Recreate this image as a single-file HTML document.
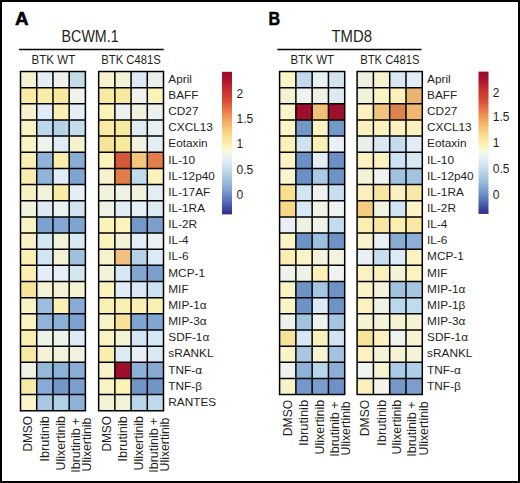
<!DOCTYPE html>
<html><head><meta charset="utf-8"><style>
html,body{margin:0;padding:0;background:#fff;}
body{width:520px;height:483px;overflow:hidden;position:relative;}
.frame{position:absolute;left:0;top:0;width:520px;height:483px;box-sizing:border-box;border:2px solid #000;}
svg{position:absolute;left:0;top:0;}
svg text{font-family:"Liberation Sans", sans-serif;fill:#231f20;}
svg text[font-weight]{stroke:#000;stroke-width:0.5px;fill:#000;}
</style></head><body>
<svg width="520" height="483" viewBox="0 0 520 483">
<defs><linearGradient id="g1" x1="0" y1="0" x2="0" y2="1"><stop offset="0.0" stop-color="#980d2b"/><stop offset="0.06" stop-color="#ac132c"/><stop offset="0.13" stop-color="#c8302c"/><stop offset="0.2" stop-color="#d84a35"/><stop offset="0.27" stop-color="#e8774a"/><stop offset="0.33" stop-color="#f0a05c"/><stop offset="0.39" stop-color="#f5c274"/><stop offset="0.45" stop-color="#f9df92"/><stop offset="0.51" stop-color="#fcefb2"/><stop offset="0.54" stop-color="#fbf6cc"/><stop offset="0.57" stop-color="#f5f8e6"/><stop offset="0.61" stop-color="#e6f0f4"/><stop offset="0.66" stop-color="#d0e4ef"/><stop offset="0.7" stop-color="#bcd6e8"/><stop offset="0.76" stop-color="#a0c2de"/><stop offset="0.82" stop-color="#84a6d2"/><stop offset="0.87" stop-color="#6a88c4"/><stop offset="0.92" stop-color="#5264b2"/><stop offset="0.97" stop-color="#3c3f9a"/><stop offset="1.0" stop-color="#2c2c84"/></linearGradient></defs>
<text x="14.9" y="24.8" font-size="18" font-weight="bold" textLength="13.6" lengthAdjust="spacingAndGlyphs">A</text>
<text x="268.6" y="24.8" font-size="18" font-weight="bold" textLength="11.6" lengthAdjust="spacingAndGlyphs">B</text>
<text x="61.6" y="41.8" font-size="16" textLength="57" lengthAdjust="spacingAndGlyphs">BCWM.1</text>
<text x="331.5" y="41.7" font-size="16" textLength="40.5" lengthAdjust="spacingAndGlyphs">TMD8</text>
<path d="M19.1 49.5H163.7M277.3 49.5H421.5" stroke="#000" stroke-width="1.6"/>
<g font-size="11.9">
<text x="31.6" y="64" textLength="43.6" lengthAdjust="spacingAndGlyphs">BTK WT</text>
<text x="101.3" y="64" textLength="59.5" lengthAdjust="spacingAndGlyphs">BTK C481S</text>
<text x="290.6" y="64" textLength="43.4" lengthAdjust="spacingAndGlyphs">BTK WT</text>
<text x="360.2" y="64" textLength="59.4" lengthAdjust="spacingAndGlyphs">BTK C481S</text>
</g>
<rect x="20.50" y="71.50" width="16.23" height="16.16" fill="#f4f2d0"/>
<rect x="36.73" y="71.50" width="16.23" height="16.16" fill="#e3eef6"/>
<rect x="52.95" y="71.50" width="16.23" height="16.16" fill="#eef2e8"/>
<rect x="69.18" y="71.50" width="16.23" height="16.16" fill="#c4dcea"/>
<rect x="20.50" y="87.66" width="16.23" height="16.16" fill="#f9eba2"/>
<rect x="36.73" y="87.66" width="16.23" height="16.16" fill="#f9eca6"/>
<rect x="52.95" y="87.66" width="16.23" height="16.16" fill="#f8e89e"/>
<rect x="69.18" y="87.66" width="16.23" height="16.16" fill="#eef3ea"/>
<rect x="20.50" y="103.81" width="16.23" height="16.16" fill="#f6f2cc"/>
<rect x="36.73" y="103.81" width="16.23" height="16.16" fill="#e0ecf5"/>
<rect x="52.95" y="103.81" width="16.23" height="16.16" fill="#fbf0b4"/>
<rect x="69.18" y="103.81" width="16.23" height="16.16" fill="#e3eef5"/>
<rect x="20.50" y="119.97" width="16.23" height="16.16" fill="#fbf3c4"/>
<rect x="36.73" y="119.97" width="16.23" height="16.16" fill="#bcd8ea"/>
<rect x="52.95" y="119.97" width="16.23" height="16.16" fill="#b4d3e6"/>
<rect x="69.18" y="119.97" width="16.23" height="16.16" fill="#c4dcec"/>
<rect x="20.50" y="136.12" width="16.23" height="16.16" fill="#fbf3c4"/>
<rect x="36.73" y="136.12" width="16.23" height="16.16" fill="#eef3ea"/>
<rect x="52.95" y="136.12" width="16.23" height="16.16" fill="#e0ecf5"/>
<rect x="69.18" y="136.12" width="16.23" height="16.16" fill="#f5f2d0"/>
<rect x="20.50" y="152.28" width="16.23" height="16.16" fill="#fbf0b4"/>
<rect x="36.73" y="152.28" width="16.23" height="16.16" fill="#8fb4d9"/>
<rect x="52.95" y="152.28" width="16.23" height="16.16" fill="#fbeeaa"/>
<rect x="69.18" y="152.28" width="16.23" height="16.16" fill="#88add5"/>
<rect x="20.50" y="168.43" width="16.23" height="16.16" fill="#faeeae"/>
<rect x="36.73" y="168.43" width="16.23" height="16.16" fill="#8fb4d9"/>
<rect x="52.95" y="168.43" width="16.23" height="16.16" fill="#e0ecf7"/>
<rect x="69.18" y="168.43" width="16.23" height="16.16" fill="#7ea4cf"/>
<rect x="20.50" y="184.59" width="16.23" height="16.16" fill="#f8f1c0"/>
<rect x="36.73" y="184.59" width="16.23" height="16.16" fill="#f0f2dc"/>
<rect x="52.95" y="184.59" width="16.23" height="16.16" fill="#faeca4"/>
<rect x="69.18" y="184.59" width="16.23" height="16.16" fill="#e6eff5"/>
<rect x="20.50" y="200.74" width="16.23" height="16.16" fill="#f2f3dc"/>
<rect x="36.73" y="200.74" width="16.23" height="16.16" fill="#dbe9f4"/>
<rect x="52.95" y="200.74" width="16.23" height="16.16" fill="#eaf1f0"/>
<rect x="69.18" y="200.74" width="16.23" height="16.16" fill="#cfe4f0"/>
<rect x="20.50" y="216.90" width="16.23" height="16.16" fill="#f8f2c4"/>
<rect x="36.73" y="216.90" width="16.23" height="16.16" fill="#7ca2cf"/>
<rect x="52.95" y="216.90" width="16.23" height="16.16" fill="#82a8d2"/>
<rect x="69.18" y="216.90" width="16.23" height="16.16" fill="#7ea4d0"/>
<rect x="20.50" y="233.05" width="16.23" height="16.16" fill="#f8f2c4"/>
<rect x="36.73" y="233.05" width="16.23" height="16.16" fill="#d4e6f3"/>
<rect x="52.95" y="233.05" width="16.23" height="16.16" fill="#f0f2dc"/>
<rect x="69.18" y="233.05" width="16.23" height="16.16" fill="#d6e8f2"/>
<rect x="20.50" y="249.21" width="16.23" height="16.16" fill="#fbf0b4"/>
<rect x="36.73" y="249.21" width="16.23" height="16.16" fill="#d2e5f3"/>
<rect x="52.95" y="249.21" width="16.23" height="16.16" fill="#f3f2d6"/>
<rect x="69.18" y="249.21" width="16.23" height="16.16" fill="#9fc1de"/>
<rect x="20.50" y="265.36" width="16.23" height="16.16" fill="#fbf0b0"/>
<rect x="36.73" y="265.36" width="16.23" height="16.16" fill="#e3eef8"/>
<rect x="52.95" y="265.36" width="16.23" height="16.16" fill="#e6eff7"/>
<rect x="69.18" y="265.36" width="16.23" height="16.16" fill="#d4e7f0"/>
<rect x="20.50" y="281.51" width="16.23" height="16.16" fill="#f8e498"/>
<rect x="36.73" y="281.51" width="16.23" height="16.16" fill="#f4f2d4"/>
<rect x="52.95" y="281.51" width="16.23" height="16.16" fill="#f4f2d4"/>
<rect x="69.18" y="281.51" width="16.23" height="16.16" fill="#f5f2d0"/>
<rect x="20.50" y="297.67" width="16.23" height="16.16" fill="#fbf3c0"/>
<rect x="36.73" y="297.67" width="16.23" height="16.16" fill="#9bbede"/>
<rect x="52.95" y="297.67" width="16.23" height="16.16" fill="#fbf0b4"/>
<rect x="69.18" y="297.67" width="16.23" height="16.16" fill="#88acd5"/>
<rect x="20.50" y="313.83" width="16.23" height="16.16" fill="#fbf3c0"/>
<rect x="36.73" y="313.83" width="16.23" height="16.16" fill="#90b4d9"/>
<rect x="52.95" y="313.83" width="16.23" height="16.16" fill="#8ab0d8"/>
<rect x="69.18" y="313.83" width="16.23" height="16.16" fill="#7ca2cf"/>
<rect x="20.50" y="329.98" width="16.23" height="16.16" fill="#faf0b0"/>
<rect x="36.73" y="329.98" width="16.23" height="16.16" fill="#eef3ea"/>
<rect x="52.95" y="329.98" width="16.23" height="16.16" fill="#eef3ea"/>
<rect x="69.18" y="329.98" width="16.23" height="16.16" fill="#dcebf5"/>
<rect x="20.50" y="346.13" width="16.23" height="16.16" fill="#f8e8a0"/>
<rect x="36.73" y="346.13" width="16.23" height="16.16" fill="#f3f2d8"/>
<rect x="52.95" y="346.13" width="16.23" height="16.16" fill="#f2f2da"/>
<rect x="69.18" y="346.13" width="16.23" height="16.16" fill="#f0f2e0"/>
<rect x="20.50" y="362.29" width="16.23" height="16.16" fill="#f0f3e4"/>
<rect x="36.73" y="362.29" width="16.23" height="16.16" fill="#94b8da"/>
<rect x="52.95" y="362.29" width="16.23" height="16.16" fill="#8cb2d8"/>
<rect x="69.18" y="362.29" width="16.23" height="16.16" fill="#88aed6"/>
<rect x="20.50" y="378.45" width="16.23" height="16.16" fill="#f8eaa4"/>
<rect x="36.73" y="378.45" width="16.23" height="16.16" fill="#88acd5"/>
<rect x="52.95" y="378.45" width="16.23" height="16.16" fill="#7298c9"/>
<rect x="69.18" y="378.45" width="16.23" height="16.16" fill="#7aa0ce"/>
<rect x="20.50" y="394.60" width="16.23" height="16.16" fill="#fbf4c8"/>
<rect x="36.73" y="394.60" width="16.23" height="16.16" fill="#a8c8e4"/>
<rect x="52.95" y="394.60" width="16.23" height="16.16" fill="#b0d0e8"/>
<rect x="69.18" y="394.60" width="16.23" height="16.16" fill="#8eb2d8"/>
<path d="M20.50 70.75V411.50M36.73 70.75V411.50M52.95 70.75V411.50M69.18 70.75V411.50M85.40 70.75V411.50M20.50 71.50H85.40M20.50 87.66H85.40M20.50 103.81H85.40M20.50 119.97H85.40M20.50 136.12H85.40M20.50 152.28H85.40M20.50 168.43H85.40M20.50 184.59H85.40M20.50 200.74H85.40M20.50 216.90H85.40M20.50 233.05H85.40M20.50 249.21H85.40M20.50 265.36H85.40M20.50 281.51H85.40M20.50 297.67H85.40M20.50 313.83H85.40M20.50 329.98H85.40M20.50 346.13H85.40M20.50 362.29H85.40M20.50 378.45H85.40M20.50 394.60H85.40M20.50 410.75H85.40" stroke="#000" stroke-width="1.5" fill="none"/>
<rect x="98.65" y="71.50" width="16.21" height="16.16" fill="#f8f3cc"/>
<rect x="114.86" y="71.50" width="16.21" height="16.16" fill="#f2f2d4"/>
<rect x="131.07" y="71.50" width="16.21" height="16.16" fill="#dde9f4"/>
<rect x="147.29" y="71.50" width="16.21" height="16.16" fill="#eaf0ec"/>
<rect x="98.65" y="87.66" width="16.21" height="16.16" fill="#f9eaa2"/>
<rect x="114.86" y="87.66" width="16.21" height="16.16" fill="#f9e9a0"/>
<rect x="131.07" y="87.66" width="16.21" height="16.16" fill="#eef2ea"/>
<rect x="147.29" y="87.66" width="16.21" height="16.16" fill="#fbf2b8"/>
<rect x="98.65" y="103.81" width="16.21" height="16.16" fill="#fbf2bc"/>
<rect x="114.86" y="103.81" width="16.21" height="16.16" fill="#e8f0f0"/>
<rect x="131.07" y="103.81" width="16.21" height="16.16" fill="#f2f2dc"/>
<rect x="147.29" y="103.81" width="16.21" height="16.16" fill="#ebf1ee"/>
<rect x="98.65" y="119.97" width="16.21" height="16.16" fill="#f9eaa4"/>
<rect x="114.86" y="119.97" width="16.21" height="16.16" fill="#f9e9a0"/>
<rect x="131.07" y="119.97" width="16.21" height="16.16" fill="#e0ecf6"/>
<rect x="147.29" y="119.97" width="16.21" height="16.16" fill="#e8f0f4"/>
<rect x="98.65" y="136.12" width="16.21" height="16.16" fill="#f6e39a"/>
<rect x="114.86" y="136.12" width="16.21" height="16.16" fill="#f9e8a0"/>
<rect x="131.07" y="136.12" width="16.21" height="16.16" fill="#f1f2e0"/>
<rect x="147.29" y="136.12" width="16.21" height="16.16" fill="#e4eef5"/>
<rect x="98.65" y="152.28" width="16.21" height="16.16" fill="#fbf2bc"/>
<rect x="114.86" y="152.28" width="16.21" height="16.16" fill="#d6583a"/>
<rect x="131.07" y="152.28" width="16.21" height="16.16" fill="#f4c67c"/>
<rect x="147.29" y="152.28" width="16.21" height="16.16" fill="#e27e4c"/>
<rect x="98.65" y="168.43" width="16.21" height="16.16" fill="#f8f3cc"/>
<rect x="114.86" y="168.43" width="16.21" height="16.16" fill="#e07c48"/>
<rect x="131.07" y="168.43" width="16.21" height="16.16" fill="#c0dbee"/>
<rect x="147.29" y="168.43" width="16.21" height="16.16" fill="#fbf2bc"/>
<rect x="98.65" y="184.59" width="16.21" height="16.16" fill="#f1f2da"/>
<rect x="114.86" y="184.59" width="16.21" height="16.16" fill="#eef2e6"/>
<rect x="131.07" y="184.59" width="16.21" height="16.16" fill="#f1f2de"/>
<rect x="147.29" y="184.59" width="16.21" height="16.16" fill="#e2edf5"/>
<rect x="98.65" y="200.74" width="16.21" height="16.16" fill="#eef2e4"/>
<rect x="114.86" y="200.74" width="16.21" height="16.16" fill="#e0ecf6"/>
<rect x="131.07" y="200.74" width="16.21" height="16.16" fill="#e6eff5"/>
<rect x="147.29" y="200.74" width="16.21" height="16.16" fill="#dceaf4"/>
<rect x="98.65" y="216.90" width="16.21" height="16.16" fill="#fbf2bc"/>
<rect x="114.86" y="216.90" width="16.21" height="16.16" fill="#fbf2bc"/>
<rect x="131.07" y="216.90" width="16.21" height="16.16" fill="#7498c9"/>
<rect x="147.29" y="216.90" width="16.21" height="16.16" fill="#7c9fcd"/>
<rect x="98.65" y="233.05" width="16.21" height="16.16" fill="#fbf2bc"/>
<rect x="114.86" y="233.05" width="16.21" height="16.16" fill="#f1f2d8"/>
<rect x="131.07" y="233.05" width="16.21" height="16.16" fill="#e2edf6"/>
<rect x="147.29" y="233.05" width="16.21" height="16.16" fill="#eaf1f0"/>
<rect x="98.65" y="249.21" width="16.21" height="16.16" fill="#f6f2cc"/>
<rect x="114.86" y="249.21" width="16.21" height="16.16" fill="#f2c080"/>
<rect x="131.07" y="249.21" width="16.21" height="16.16" fill="#b4d3ea"/>
<rect x="147.29" y="249.21" width="16.21" height="16.16" fill="#dcebf5"/>
<rect x="98.65" y="265.36" width="16.21" height="16.16" fill="#f3f2d6"/>
<rect x="114.86" y="265.36" width="16.21" height="16.16" fill="#d6e7f5"/>
<rect x="131.07" y="265.36" width="16.21" height="16.16" fill="#82a6d0"/>
<rect x="147.29" y="265.36" width="16.21" height="16.16" fill="#7aa0cc"/>
<rect x="98.65" y="281.51" width="16.21" height="16.16" fill="#fbf2bc"/>
<rect x="114.86" y="281.51" width="16.21" height="16.16" fill="#e0ecf6"/>
<rect x="131.07" y="281.51" width="16.21" height="16.16" fill="#d8e8f4"/>
<rect x="147.29" y="281.51" width="16.21" height="16.16" fill="#cde2f0"/>
<rect x="98.65" y="297.67" width="16.21" height="16.16" fill="#fbf0b4"/>
<rect x="114.86" y="297.67" width="16.21" height="16.16" fill="#fbf0b4"/>
<rect x="131.07" y="297.67" width="16.21" height="16.16" fill="#fbf0b4"/>
<rect x="147.29" y="297.67" width="16.21" height="16.16" fill="#fbf0b4"/>
<rect x="98.65" y="313.83" width="16.21" height="16.16" fill="#f8f2c8"/>
<rect x="114.86" y="313.83" width="16.21" height="16.16" fill="#f8e29a"/>
<rect x="131.07" y="313.83" width="16.21" height="16.16" fill="#7ea4d0"/>
<rect x="147.29" y="313.83" width="16.21" height="16.16" fill="#80a6d2"/>
<rect x="98.65" y="329.98" width="16.21" height="16.16" fill="#fbf3c4"/>
<rect x="114.86" y="329.98" width="16.21" height="16.16" fill="#f2f2d6"/>
<rect x="131.07" y="329.98" width="16.21" height="16.16" fill="#d4e6f3"/>
<rect x="147.29" y="329.98" width="16.21" height="16.16" fill="#d6e8f3"/>
<rect x="98.65" y="346.13" width="16.21" height="16.16" fill="#faeeac"/>
<rect x="114.86" y="346.13" width="16.21" height="16.16" fill="#dcebf5"/>
<rect x="131.07" y="346.13" width="16.21" height="16.16" fill="#e6eff6"/>
<rect x="147.29" y="346.13" width="16.21" height="16.16" fill="#d8e9f3"/>
<rect x="98.65" y="362.29" width="16.21" height="16.16" fill="#f8f2c8"/>
<rect x="114.86" y="362.29" width="16.21" height="16.16" fill="#9e0f2b"/>
<rect x="131.07" y="362.29" width="16.21" height="16.16" fill="#8cb0d6"/>
<rect x="147.29" y="362.29" width="16.21" height="16.16" fill="#84aad4"/>
<rect x="98.65" y="378.45" width="16.21" height="16.16" fill="#f9f2c4"/>
<rect x="114.86" y="378.45" width="16.21" height="16.16" fill="#fbf2b8"/>
<rect x="131.07" y="378.45" width="16.21" height="16.16" fill="#6f95c7"/>
<rect x="147.29" y="378.45" width="16.21" height="16.16" fill="#7096c8"/>
<rect x="98.65" y="394.60" width="16.21" height="16.16" fill="#f4f2d4"/>
<rect x="114.86" y="394.60" width="16.21" height="16.16" fill="#f2f2d8"/>
<rect x="131.07" y="394.60" width="16.21" height="16.16" fill="#b8d6ea"/>
<rect x="147.29" y="394.60" width="16.21" height="16.16" fill="#c0daec"/>
<path d="M98.65 70.75V411.50M114.86 70.75V411.50M131.07 70.75V411.50M147.29 70.75V411.50M163.50 70.75V411.50M98.65 71.50H163.50M98.65 87.66H163.50M98.65 103.81H163.50M98.65 119.97H163.50M98.65 136.12H163.50M98.65 152.28H163.50M98.65 168.43H163.50M98.65 184.59H163.50M98.65 200.74H163.50M98.65 216.90H163.50M98.65 233.05H163.50M98.65 249.21H163.50M98.65 265.36H163.50M98.65 281.51H163.50M98.65 297.67H163.50M98.65 313.83H163.50M98.65 329.98H163.50M98.65 346.13H163.50M98.65 362.29H163.50M98.65 378.45H163.50M98.65 394.60H163.50M98.65 410.75H163.50" stroke="#000" stroke-width="1.5" fill="none"/>
<rect x="279.60" y="71.50" width="16.27" height="16.16" fill="#fbf4c4"/>
<rect x="295.88" y="71.50" width="16.27" height="16.16" fill="#c4d9ec"/>
<rect x="312.15" y="71.50" width="16.27" height="16.16" fill="#e8f1f4"/>
<rect x="328.43" y="71.50" width="16.27" height="16.16" fill="#d2e5ee"/>
<rect x="279.60" y="87.66" width="16.27" height="16.16" fill="#f4f2d4"/>
<rect x="295.88" y="87.66" width="16.27" height="16.16" fill="#eef3ee"/>
<rect x="312.15" y="87.66" width="16.27" height="16.16" fill="#eef2e4"/>
<rect x="328.43" y="87.66" width="16.27" height="16.16" fill="#dceaf2"/>
<rect x="279.60" y="103.81" width="16.27" height="16.16" fill="#fbf4c8"/>
<rect x="295.88" y="103.81" width="16.27" height="16.16" fill="#9e0f2b"/>
<rect x="312.15" y="103.81" width="16.27" height="16.16" fill="#f0bf78"/>
<rect x="328.43" y="103.81" width="16.27" height="16.16" fill="#9e0f2b"/>
<rect x="279.60" y="119.97" width="16.27" height="16.16" fill="#fbf4c4"/>
<rect x="295.88" y="119.97" width="16.27" height="16.16" fill="#7398ca"/>
<rect x="312.15" y="119.97" width="16.27" height="16.16" fill="#fbf3c4"/>
<rect x="328.43" y="119.97" width="16.27" height="16.16" fill="#7398ca"/>
<rect x="279.60" y="136.12" width="16.27" height="16.16" fill="#fbf0b8"/>
<rect x="295.88" y="136.12" width="16.27" height="16.16" fill="#cfe2f0"/>
<rect x="312.15" y="136.12" width="16.27" height="16.16" fill="#faefb5"/>
<rect x="328.43" y="136.12" width="16.27" height="16.16" fill="#e9f1f6"/>
<rect x="279.60" y="152.28" width="16.27" height="16.16" fill="#fbf3c4"/>
<rect x="295.88" y="152.28" width="16.27" height="16.16" fill="#6b90c5"/>
<rect x="312.15" y="152.28" width="16.27" height="16.16" fill="#e2eef4"/>
<rect x="328.43" y="152.28" width="16.27" height="16.16" fill="#6b90c5"/>
<rect x="279.60" y="168.43" width="16.27" height="16.16" fill="#f8f4d0"/>
<rect x="295.88" y="168.43" width="16.27" height="16.16" fill="#6b90c5"/>
<rect x="312.15" y="168.43" width="16.27" height="16.16" fill="#a9c9e4"/>
<rect x="328.43" y="168.43" width="16.27" height="16.16" fill="#6d92c6"/>
<rect x="279.60" y="184.59" width="16.27" height="16.16" fill="#f8df8e"/>
<rect x="295.88" y="184.59" width="16.27" height="16.16" fill="#d2e5f3"/>
<rect x="312.15" y="184.59" width="16.27" height="16.16" fill="#eef3f0"/>
<rect x="328.43" y="184.59" width="16.27" height="16.16" fill="#c7def0"/>
<rect x="279.60" y="200.74" width="16.27" height="16.16" fill="#f6d886"/>
<rect x="295.88" y="200.74" width="16.27" height="16.16" fill="#d8e8f4"/>
<rect x="312.15" y="200.74" width="16.27" height="16.16" fill="#f0f2e4"/>
<rect x="328.43" y="200.74" width="16.27" height="16.16" fill="#eef3f4"/>
<rect x="279.60" y="216.90" width="16.27" height="16.16" fill="#e8f0f6"/>
<rect x="295.88" y="216.90" width="16.27" height="16.16" fill="#eef2e2"/>
<rect x="312.15" y="216.90" width="16.27" height="16.16" fill="#eef2ea"/>
<rect x="328.43" y="216.90" width="16.27" height="16.16" fill="#c4dcef"/>
<rect x="279.60" y="233.05" width="16.27" height="16.16" fill="#fbf4c4"/>
<rect x="295.88" y="233.05" width="16.27" height="16.16" fill="#6e93c6"/>
<rect x="312.15" y="233.05" width="16.27" height="16.16" fill="#9dc0e0"/>
<rect x="328.43" y="233.05" width="16.27" height="16.16" fill="#6e93c6"/>
<rect x="279.60" y="249.21" width="16.27" height="16.16" fill="#fbeeb0"/>
<rect x="295.88" y="249.21" width="16.27" height="16.16" fill="#fbf4c8"/>
<rect x="312.15" y="249.21" width="16.27" height="16.16" fill="#f4f3dc"/>
<rect x="328.43" y="249.21" width="16.27" height="16.16" fill="#f4f3dc"/>
<rect x="279.60" y="265.36" width="16.27" height="16.16" fill="#eef3ee"/>
<rect x="295.88" y="265.36" width="16.27" height="16.16" fill="#eef3e8"/>
<rect x="312.15" y="265.36" width="16.27" height="16.16" fill="#fbf0b8"/>
<rect x="328.43" y="265.36" width="16.27" height="16.16" fill="#eef3f2"/>
<rect x="279.60" y="281.51" width="16.27" height="16.16" fill="#fbf4c4"/>
<rect x="295.88" y="281.51" width="16.27" height="16.16" fill="#6e93c6"/>
<rect x="312.15" y="281.51" width="16.27" height="16.16" fill="#a4c6e4"/>
<rect x="328.43" y="281.51" width="16.27" height="16.16" fill="#6e93c6"/>
<rect x="279.60" y="297.67" width="16.27" height="16.16" fill="#fbf4c4"/>
<rect x="295.88" y="297.67" width="16.27" height="16.16" fill="#6e93c6"/>
<rect x="312.15" y="297.67" width="16.27" height="16.16" fill="#dbeaf6"/>
<rect x="328.43" y="297.67" width="16.27" height="16.16" fill="#6e93c6"/>
<rect x="279.60" y="313.83" width="16.27" height="16.16" fill="#eef3ea"/>
<rect x="295.88" y="313.83" width="16.27" height="16.16" fill="#a2c4e0"/>
<rect x="312.15" y="313.83" width="16.27" height="16.16" fill="#eef3ee"/>
<rect x="328.43" y="313.83" width="16.27" height="16.16" fill="#a4c6e2"/>
<rect x="279.60" y="329.98" width="16.27" height="16.16" fill="#f7e49a"/>
<rect x="295.88" y="329.98" width="16.27" height="16.16" fill="#d6e8f5"/>
<rect x="312.15" y="329.98" width="16.27" height="16.16" fill="#faf0bc"/>
<rect x="328.43" y="329.98" width="16.27" height="16.16" fill="#cfe3f3"/>
<rect x="279.60" y="346.13" width="16.27" height="16.16" fill="#fbf4c4"/>
<rect x="295.88" y="346.13" width="16.27" height="16.16" fill="#a8c8e4"/>
<rect x="312.15" y="346.13" width="16.27" height="16.16" fill="#f6f3d0"/>
<rect x="328.43" y="346.13" width="16.27" height="16.16" fill="#a2c4e2"/>
<rect x="279.60" y="362.29" width="16.27" height="16.16" fill="#eef3ee"/>
<rect x="295.88" y="362.29" width="16.27" height="16.16" fill="#8db0d6"/>
<rect x="312.15" y="362.29" width="16.27" height="16.16" fill="#b8d6ec"/>
<rect x="328.43" y="362.29" width="16.27" height="16.16" fill="#8aaed5"/>
<rect x="279.60" y="378.45" width="16.27" height="16.16" fill="#f9f3cc"/>
<rect x="295.88" y="378.45" width="16.27" height="16.16" fill="#7498c9"/>
<rect x="312.15" y="378.45" width="16.27" height="16.16" fill="#7a9ecc"/>
<rect x="328.43" y="378.45" width="16.27" height="16.16" fill="#6e92c5"/>
<path d="M279.60 70.75V395.35M295.88 70.75V395.35M312.15 70.75V395.35M328.43 70.75V395.35M344.70 70.75V395.35M279.60 71.50H344.70M279.60 87.66H344.70M279.60 103.81H344.70M279.60 119.97H344.70M279.60 136.12H344.70M279.60 152.28H344.70M279.60 168.43H344.70M279.60 184.59H344.70M279.60 200.74H344.70M279.60 216.90H344.70M279.60 233.05H344.70M279.60 249.21H344.70M279.60 265.36H344.70M279.60 281.51H344.70M279.60 297.67H344.70M279.60 313.83H344.70M279.60 329.98H344.70M279.60 346.13H344.70M279.60 362.29H344.70M279.60 378.45H344.70M279.60 394.60H344.70" stroke="#000" stroke-width="1.5" fill="none"/>
<rect x="357.10" y="71.50" width="16.30" height="16.16" fill="#f0f1dc"/>
<rect x="373.40" y="71.50" width="16.30" height="16.16" fill="#f6f2d0"/>
<rect x="389.70" y="71.50" width="16.30" height="16.16" fill="#d8e8f4"/>
<rect x="406.00" y="71.50" width="16.30" height="16.16" fill="#e2edf5"/>
<rect x="357.10" y="87.66" width="16.30" height="16.16" fill="#f1f2da"/>
<rect x="373.40" y="87.66" width="16.30" height="16.16" fill="#fbf3c0"/>
<rect x="389.70" y="87.66" width="16.30" height="16.16" fill="#fbf0b8"/>
<rect x="406.00" y="87.66" width="16.30" height="16.16" fill="#ecb472"/>
<rect x="357.10" y="103.81" width="16.30" height="16.16" fill="#fbf2c0"/>
<rect x="373.40" y="103.81" width="16.30" height="16.16" fill="#f0c47e"/>
<rect x="389.70" y="103.81" width="16.30" height="16.16" fill="#dc844e"/>
<rect x="406.00" y="103.81" width="16.30" height="16.16" fill="#eeb872"/>
<rect x="357.10" y="119.97" width="16.30" height="16.16" fill="#fbf2c0"/>
<rect x="373.40" y="119.97" width="16.30" height="16.16" fill="#fbf2c0"/>
<rect x="389.70" y="119.97" width="16.30" height="16.16" fill="#fbf2c0"/>
<rect x="406.00" y="119.97" width="16.30" height="16.16" fill="#fbf2c0"/>
<rect x="357.10" y="136.12" width="16.30" height="16.16" fill="#e8f0ea"/>
<rect x="373.40" y="136.12" width="16.30" height="16.16" fill="#d9e9f4"/>
<rect x="389.70" y="136.12" width="16.30" height="16.16" fill="#c4dcee"/>
<rect x="406.00" y="136.12" width="16.30" height="16.16" fill="#e0edf6"/>
<rect x="357.10" y="152.28" width="16.30" height="16.16" fill="#fbf2c0"/>
<rect x="373.40" y="152.28" width="16.30" height="16.16" fill="#fbf2c0"/>
<rect x="389.70" y="152.28" width="16.30" height="16.16" fill="#cde2f2"/>
<rect x="406.00" y="152.28" width="16.30" height="16.16" fill="#d8e9f3"/>
<rect x="357.10" y="168.43" width="16.30" height="16.16" fill="#f4f3d6"/>
<rect x="373.40" y="168.43" width="16.30" height="16.16" fill="#eef3f0"/>
<rect x="389.70" y="168.43" width="16.30" height="16.16" fill="#9fc2e2"/>
<rect x="406.00" y="168.43" width="16.30" height="16.16" fill="#a2c4e0"/>
<rect x="357.10" y="184.59" width="16.30" height="16.16" fill="#fbf0bc"/>
<rect x="373.40" y="184.59" width="16.30" height="16.16" fill="#f8e6a0"/>
<rect x="389.70" y="184.59" width="16.30" height="16.16" fill="#fbf1c0"/>
<rect x="406.00" y="184.59" width="16.30" height="16.16" fill="#f8e8a8"/>
<rect x="357.10" y="200.74" width="16.30" height="16.16" fill="#f4cc80"/>
<rect x="373.40" y="200.74" width="16.30" height="16.16" fill="#f0f2e0"/>
<rect x="389.70" y="200.74" width="16.30" height="16.16" fill="#d0e4f3"/>
<rect x="406.00" y="200.74" width="16.30" height="16.16" fill="#fbf3c8"/>
<rect x="357.10" y="216.90" width="16.30" height="16.16" fill="#fbeeb0"/>
<rect x="373.40" y="216.90" width="16.30" height="16.16" fill="#f8e6a2"/>
<rect x="389.70" y="216.90" width="16.30" height="16.16" fill="#fbeeb0"/>
<rect x="406.00" y="216.90" width="16.30" height="16.16" fill="#f9e8a4"/>
<rect x="357.10" y="233.05" width="16.30" height="16.16" fill="#f8f3cc"/>
<rect x="373.40" y="233.05" width="16.30" height="16.16" fill="#e8f0f6"/>
<rect x="389.70" y="233.05" width="16.30" height="16.16" fill="#88acd4"/>
<rect x="406.00" y="233.05" width="16.30" height="16.16" fill="#8cb0d6"/>
<rect x="357.10" y="249.21" width="16.30" height="16.16" fill="#e8f0f4"/>
<rect x="373.40" y="249.21" width="16.30" height="16.16" fill="#c8dff0"/>
<rect x="389.70" y="249.21" width="16.30" height="16.16" fill="#dcebf5"/>
<rect x="406.00" y="249.21" width="16.30" height="16.16" fill="#fbf2c0"/>
<rect x="357.10" y="265.36" width="16.30" height="16.16" fill="#fbf2c0"/>
<rect x="373.40" y="265.36" width="16.30" height="16.16" fill="#fbf0bc"/>
<rect x="389.70" y="265.36" width="16.30" height="16.16" fill="#f4f3d8"/>
<rect x="406.00" y="265.36" width="16.30" height="16.16" fill="#fbf2c0"/>
<rect x="357.10" y="281.51" width="16.30" height="16.16" fill="#fbf3c4"/>
<rect x="373.40" y="281.51" width="16.30" height="16.16" fill="#f3f3dc"/>
<rect x="389.70" y="281.51" width="16.30" height="16.16" fill="#a0c2e0"/>
<rect x="406.00" y="281.51" width="16.30" height="16.16" fill="#a6c6e2"/>
<rect x="357.10" y="297.67" width="16.30" height="16.16" fill="#fbf2c0"/>
<rect x="373.40" y="297.67" width="16.30" height="16.16" fill="#eef3e6"/>
<rect x="389.70" y="297.67" width="16.30" height="16.16" fill="#bcd8ec"/>
<rect x="406.00" y="297.67" width="16.30" height="16.16" fill="#c0daee"/>
<rect x="357.10" y="313.83" width="16.30" height="16.16" fill="#f6f3d2"/>
<rect x="373.40" y="313.83" width="16.30" height="16.16" fill="#f4f3d8"/>
<rect x="389.70" y="313.83" width="16.30" height="16.16" fill="#f6f3d2"/>
<rect x="406.00" y="313.83" width="16.30" height="16.16" fill="#f4f3d6"/>
<rect x="357.10" y="329.98" width="16.30" height="16.16" fill="#f8e496"/>
<rect x="373.40" y="329.98" width="16.30" height="16.16" fill="#fbf2c0"/>
<rect x="389.70" y="329.98" width="16.30" height="16.16" fill="#eef3f0"/>
<rect x="406.00" y="329.98" width="16.30" height="16.16" fill="#f6f3d2"/>
<rect x="357.10" y="346.13" width="16.30" height="16.16" fill="#fbf2c0"/>
<rect x="373.40" y="346.13" width="16.30" height="16.16" fill="#f4f3d4"/>
<rect x="389.70" y="346.13" width="16.30" height="16.16" fill="#f4f3d4"/>
<rect x="406.00" y="346.13" width="16.30" height="16.16" fill="#f4f3d6"/>
<rect x="357.10" y="362.29" width="16.30" height="16.16" fill="#eef3ee"/>
<rect x="373.40" y="362.29" width="16.30" height="16.16" fill="#f6f3d0"/>
<rect x="389.70" y="362.29" width="16.30" height="16.16" fill="#a8cae6"/>
<rect x="406.00" y="362.29" width="16.30" height="16.16" fill="#acd0e8"/>
<rect x="357.10" y="378.45" width="16.30" height="16.16" fill="#faf0bc"/>
<rect x="373.40" y="378.45" width="16.30" height="16.16" fill="#f3f3e6"/>
<rect x="389.70" y="378.45" width="16.30" height="16.16" fill="#7498c8"/>
<rect x="406.00" y="378.45" width="16.30" height="16.16" fill="#7c9ecc"/>
<path d="M357.10 70.75V395.35M373.40 70.75V395.35M389.70 70.75V395.35M406.00 70.75V395.35M422.30 70.75V395.35M357.10 71.50H422.30M357.10 87.66H422.30M357.10 103.81H422.30M357.10 119.97H422.30M357.10 136.12H422.30M357.10 152.28H422.30M357.10 168.43H422.30M357.10 184.59H422.30M357.10 200.74H422.30M357.10 216.90H422.30M357.10 233.05H422.30M357.10 249.21H422.30M357.10 265.36H422.30M357.10 281.51H422.30M357.10 297.67H422.30M357.10 313.83H422.30M357.10 329.98H422.30M357.10 346.13H422.30M357.10 362.29H422.30M357.10 378.45H422.30M357.10 394.60H422.30" stroke="#000" stroke-width="1.5" fill="none"/>
<g font-size="11.8">
<text x="168.3" y="82.78">April</text>
<text x="168.3" y="98.93">BAFF</text>
<text x="168.3" y="115.09">CD27</text>
<text x="168.3" y="131.24">CXCL13</text>
<text x="168.3" y="147.40">Eotaxin</text>
<text x="168.3" y="163.55">IL-10</text>
<text x="168.3" y="179.71">IL-12p40</text>
<text x="168.3" y="195.86">IL-17AF</text>
<text x="168.3" y="212.02">IL-1RA</text>
<text x="168.3" y="228.17">IL-2R</text>
<text x="168.3" y="244.33">IL-4</text>
<text x="168.3" y="260.48">IL-6</text>
<text x="168.3" y="276.64">MCP-1</text>
<text x="168.3" y="292.79">MIF</text>
<text x="168.3" y="308.95">MIP-1α</text>
<text x="168.3" y="325.10">MIP-3α</text>
<text x="168.3" y="341.26">SDF-1α</text>
<text x="168.3" y="357.41">sRANKL</text>
<text x="168.3" y="373.57">TNF-α</text>
<text x="168.3" y="389.72">TNF-β</text>
<text x="168.3" y="405.88">RANTES</text>
<text x="427.1" y="82.78">April</text>
<text x="427.1" y="98.93">BAFF</text>
<text x="427.1" y="115.09">CD27</text>
<text x="427.1" y="131.24">CXCL13</text>
<text x="427.1" y="147.40">Eotaxin</text>
<text x="427.1" y="163.55">IL-10</text>
<text x="427.1" y="179.71">IL-12p40</text>
<text x="427.1" y="195.86">IL-1RA</text>
<text x="427.1" y="212.02">IL-2R</text>
<text x="427.1" y="228.17">IL-4</text>
<text x="427.1" y="244.33">IL-6</text>
<text x="427.1" y="260.48">MCP-1</text>
<text x="427.1" y="276.64">MIF</text>
<text x="427.1" y="292.79">MIP-1α</text>
<text x="427.1" y="308.95">MIP-1β</text>
<text x="427.1" y="325.10">MIP-3α</text>
<text x="427.1" y="341.26">SDF-1α</text>
<text x="427.1" y="357.41">sRANKL</text>
<text x="427.1" y="373.57">TNF-α</text>
<text x="427.1" y="389.72">TNF-β</text>
</g>
<rect x="222" y="71.8" width="10" height="142.60000000000002" fill="url(#g1)"/>
<rect x="478.5" y="71.6" width="10" height="142.3" fill="url(#g1)"/>
<g font-size="12">
<text x="236.6" y="97.60">2</text>
<text x="236.6" y="123.10">1.5</text>
<text x="236.6" y="148.40">1</text>
<text x="236.6" y="173.80">0.5</text>
<text x="236.6" y="199.40">0</text>
<text x="492.8" y="96.60">2</text>
<text x="492.8" y="121.40">1.5</text>
<text x="492.8" y="147.00">1</text>
<text x="492.8" y="172.60">0.5</text>
<text x="492.8" y="198.50">0</text>
</g>
<g font-size="12">
<text transform="translate(32.40,416.00) rotate(-90)" text-anchor="end" textLength="35.6" lengthAdjust="spacingAndGlyphs">DMSO</text>
<text transform="translate(48.90,416.00) rotate(-90)" text-anchor="end" textLength="45.7" lengthAdjust="spacingAndGlyphs">Ibrutinib</text>
<text transform="translate(64.70,416.00) rotate(-90)" text-anchor="end" textLength="54.5" lengthAdjust="spacingAndGlyphs">Ulixertinib</text>
<text transform="translate(79.80,417.60) rotate(-90)" text-anchor="end" textLength="55.1" lengthAdjust="spacingAndGlyphs">Ibrutinib +</text>
<text transform="translate(91.10,417.60) rotate(-90)" text-anchor="end" textLength="53.8" lengthAdjust="spacingAndGlyphs">Ulixertinib</text>
<text transform="translate(110.55,416.00) rotate(-90)" text-anchor="end" textLength="35.6" lengthAdjust="spacingAndGlyphs">DMSO</text>
<text transform="translate(127.05,416.00) rotate(-90)" text-anchor="end" textLength="45.7" lengthAdjust="spacingAndGlyphs">Ibrutinib</text>
<text transform="translate(142.85,416.00) rotate(-90)" text-anchor="end" textLength="54.5" lengthAdjust="spacingAndGlyphs">Ulixertinib</text>
<text transform="translate(157.95,417.60) rotate(-90)" text-anchor="end" textLength="55.1" lengthAdjust="spacingAndGlyphs">Ibrutinib +</text>
<text transform="translate(169.25,417.60) rotate(-90)" text-anchor="end" textLength="53.8" lengthAdjust="spacingAndGlyphs">Ulixertinib</text>
<text transform="translate(291.50,399.80) rotate(-90)" text-anchor="end" textLength="36.4" lengthAdjust="spacingAndGlyphs">DMSO</text>
<text transform="translate(308.00,399.80) rotate(-90)" text-anchor="end" textLength="46.1" lengthAdjust="spacingAndGlyphs">Ibrutinib</text>
<text transform="translate(323.80,399.80) rotate(-90)" text-anchor="end" textLength="54.6" lengthAdjust="spacingAndGlyphs">Ulixertinib</text>
<text transform="translate(338.90,401.40) rotate(-90)" text-anchor="end" textLength="55.4" lengthAdjust="spacingAndGlyphs">Ibrutinib +</text>
<text transform="translate(350.20,401.40) rotate(-90)" text-anchor="end" textLength="54.0" lengthAdjust="spacingAndGlyphs">Ulixertinib</text>
<text transform="translate(369.00,399.80) rotate(-90)" text-anchor="end" textLength="36.4" lengthAdjust="spacingAndGlyphs">DMSO</text>
<text transform="translate(385.50,399.80) rotate(-90)" text-anchor="end" textLength="46.1" lengthAdjust="spacingAndGlyphs">Ibrutinib</text>
<text transform="translate(401.30,399.80) rotate(-90)" text-anchor="end" textLength="54.6" lengthAdjust="spacingAndGlyphs">Ulixertinib</text>
<text transform="translate(416.40,401.40) rotate(-90)" text-anchor="end" textLength="55.4" lengthAdjust="spacingAndGlyphs">Ibrutinib +</text>
<text transform="translate(427.70,401.40) rotate(-90)" text-anchor="end" textLength="54.0" lengthAdjust="spacingAndGlyphs">Ulixertinib</text>
</g>
</svg>
<div class="frame"></div>
</body></html>
